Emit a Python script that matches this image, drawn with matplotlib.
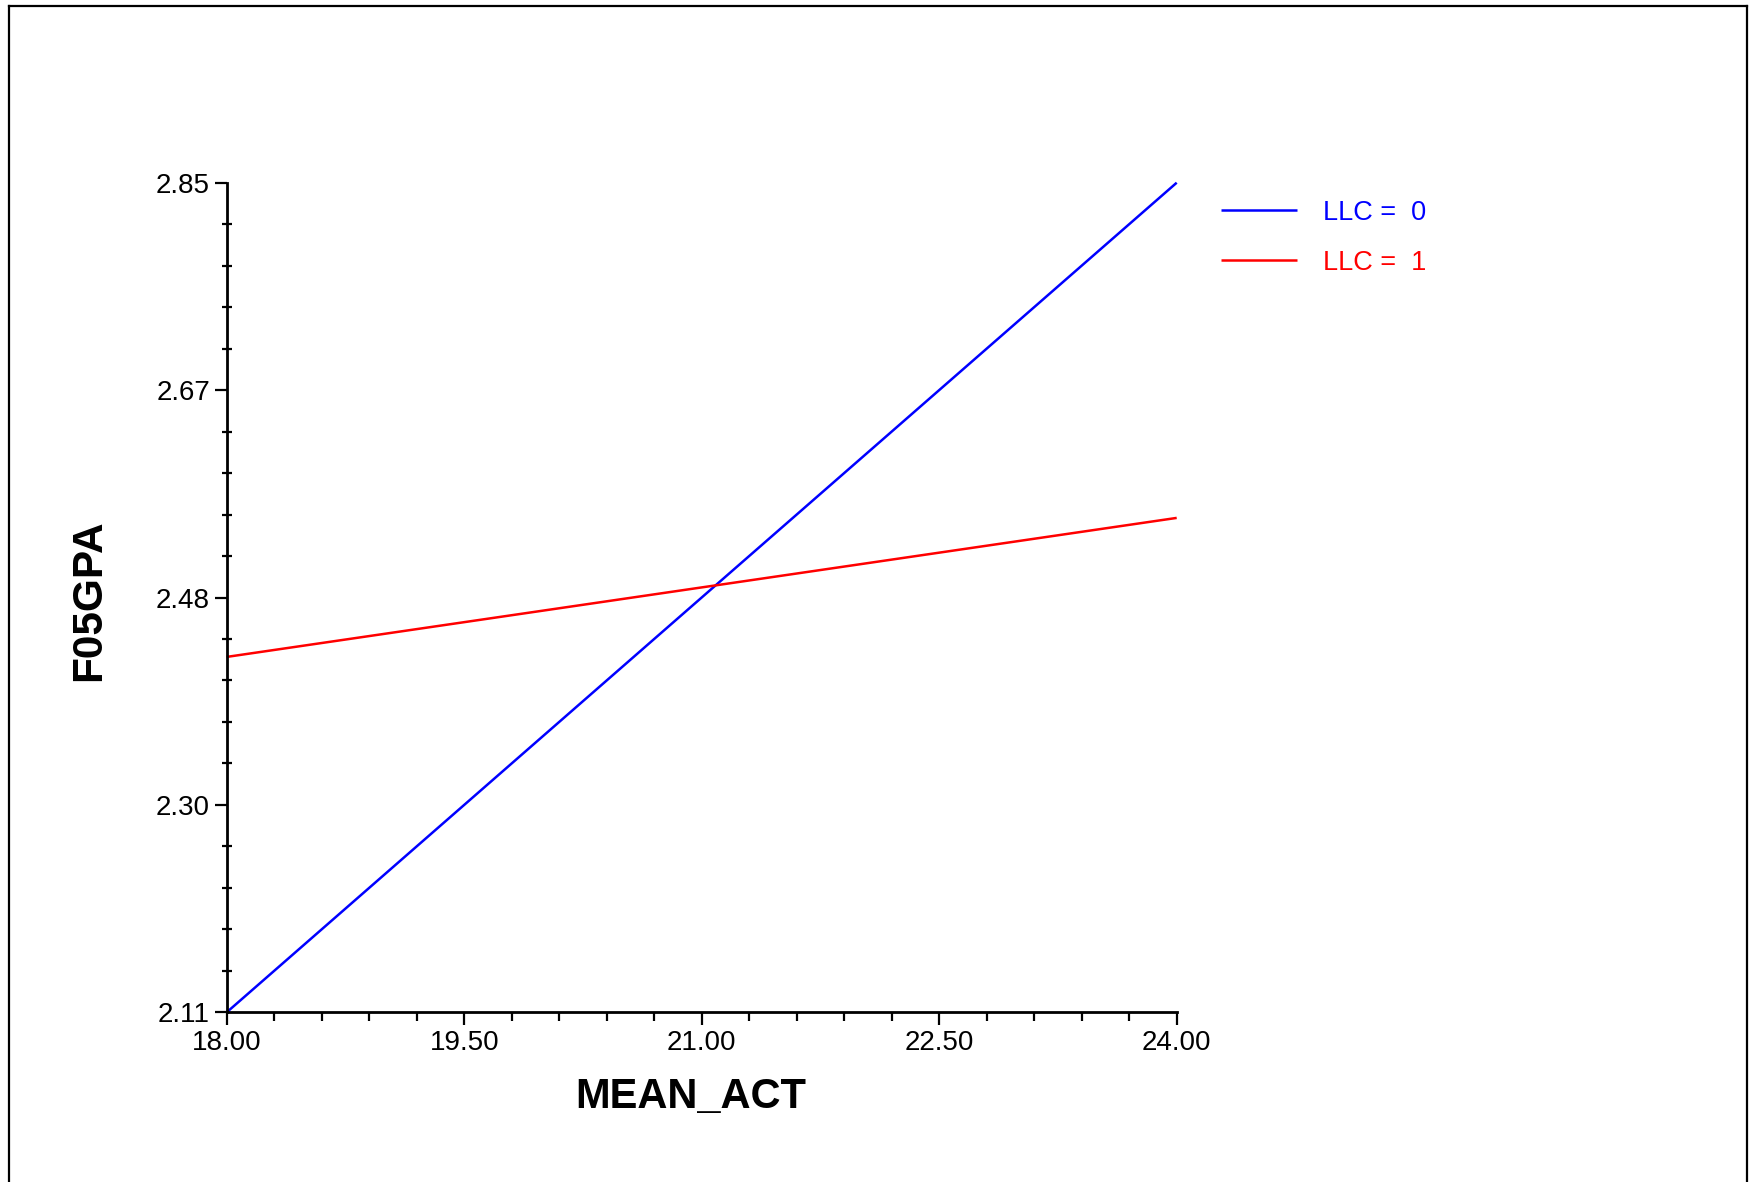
import matplotlib
matplotlib.use("Agg")
import matplotlib.pyplot as plt
from matplotlib.lines import Line2D
import numpy as np

# ---- data ----
mean_act = [18.0, 24.0]
gpa_llc0 = [2.11, 2.85]
gpa_llc1 = [2.427, 2.551]
series_labels = ["LLC =  0", "LLC =  1"]
series_colors = ["#0000ff", "#ff0000"]

x_major = [18.0, 19.5, 21.0, 22.5, 24.0]
x_major_labels = ["18.00", "19.50", "21.00", "22.50", "24.00"]
y_major = [2.11, 2.295, 2.48, 2.665, 2.85]
y_major_labels = ["2.11", "2.30", "2.48", "2.67", "2.85"]

x_label = "MEAN_ACT"
y_label = "F05GPA"

plt.rcParams['font.family'] = ['Liberation Sans', 'DejaVu Sans']

W, H = 1758, 1182
fig = plt.figure(figsize=(W / 100, H / 100), dpi=100)
fig.patch.set_facecolor("white")

left, right = 226.7 / W, 1176.7 / W
bottom, top = 1 - 1012.3 / H, 1 - 182.7 / H
ax = fig.add_axes([left, bottom, right - left, top - bottom])

lines = []
for ys, lab, col in zip([gpa_llc0, gpa_llc1], series_labels, series_colors):
    ln, = ax.plot(mean_act, ys, color=col, lw=1.8, label=lab, solid_capstyle='butt', clip_on=False)
    lines.append(ln)

ax.set_xlim(x_major[0], x_major[-1])
ax.set_ylim(y_major[0], y_major[-1])

ax.set_xticks(x_major)
ax.set_xticklabels(x_major_labels)
ax.set_yticks(y_major)
ax.set_yticklabels(y_major_labels)
xminor = np.arange(x_major[0], x_major[-1] + 1e-9, (x_major[1] - x_major[0]) / 5)
yminor = np.linspace(y_major[0], y_major[-1], 21)
ax.set_xticks(xminor, minor=True)
ax.set_yticks(yminor, minor=True)

for s in ["top", "right"]:
    ax.spines[s].set_visible(False)
for s in ["left", "bottom"]:
    ax.spines[s].set_linewidth(2.0)
    ax.spines[s].set_color("black")

ax.tick_params(axis='both', which='major', direction='out', length=9, width=1.6,
               labelsize=20, colors='black')
ax.tick_params(axis='x', which='major', pad=3.5)
ax.tick_params(axis='y', which='major', pad=3)
ax.tick_params(axis='x', which='minor', direction='out', length=6.5, width=1.6)
ax.tick_params(axis='y', which='minor', direction='inout', length=7.5, width=1.6)

fig.text(691 / W, 1 - 1097 / H, x_label, fontsize=30, fontweight='bold',
         ha='center', va='center')
fig.text(89 / W, 1 - 600 / H, y_label, fontsize=30.5, fontweight='bold',
         ha='center', va='center', rotation=90)

leg = ax.legend(handles=lines, loc='upper left',
                bbox_to_anchor=(1221 / W, 1 - 199.5 / H), bbox_transform=fig.transFigure,
                frameon=False, fontsize=19.5, handlelength=2.8, handletextpad=0.95,
                labelspacing=0.9, borderaxespad=0, borderpad=0)
for txt, col in zip(leg.get_texts(), series_colors):
    txt.set_color(col)

# outer frame (left, top, right)
fx0, fx1 = 8.5 / W, 1747 / W
fy1 = 1 - 5.5 / H
for xs, ys in [([fx0, fx0], [0, fy1]), ([fx0, fx1], [fy1, fy1]), ([fx1, fx1], [fy1, 0])]:
    fig.add_artist(Line2D(xs, ys, transform=fig.transFigure, color='black', lw=1.6))

fig.savefig("out.png", dpi=100, facecolor="white")
